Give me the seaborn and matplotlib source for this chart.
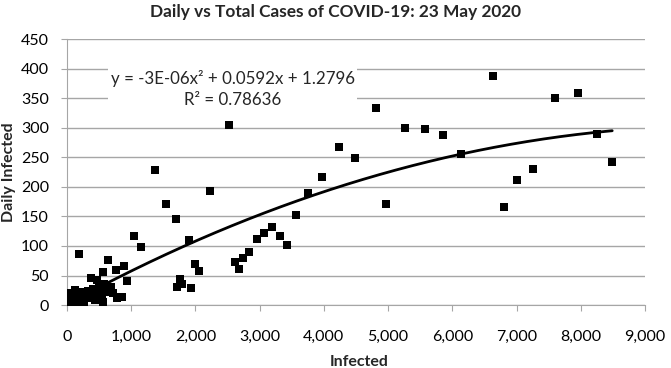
import numpy as np
import pandas as pd
import matplotlib
matplotlib.use("Agg")
import matplotlib.pyplot as plt
import seaborn as sns
from matplotlib.ticker import FuncFormatter, MultipleLocator

sns.set_style("white")
plt.rcParams['font.family'] = ['Lato', 'DejaVu Sans']

# total infected (x) and daily infected (y)
infected = [10, 30, 50, 60, 80, 100, 120, 140, 160, 187, 200, 220, 250, 270,
            300, 320, 350, 375, 400, 420, 440, 460, 480, 500, 520, 540, 560,
            565, 580, 600, 640, 660, 685, 720, 760, 780, 825, 850, 890, 930,
            1040, 1150, 1370, 1540, 1690, 1710, 1760, 1790, 1900, 1930, 1990,
            2050, 2220, 2530, 2610, 2675, 2740, 2830, 2955, 3065, 3200, 3310,
            3420, 3560, 3750, 3965, 4230, 4480, 4805, 4975, 5270, 5580, 5860,
            6130, 6640, 6810, 7010, 7250, 7600, 7960, 8260, 8490]
daily = [3, 1, 8, 20, 2, 12, 25, 5, 18, 87, 3, 10, 22, 6, 15, 24, 12, 46, 28,
         20, 8, 42, 18, 30, 25, 12, 5, 56, 35, 22, 77, 28, 31, 20, 59, 12, 14,
         14, 66, 41, 117, 98, 228, 171, 145, 31, 44, 36, 110, 29, 69, 57, 193,
         304, 73, 61, 79, 90, 112, 122, 132, 117, 101, 152, 190, 217, 267, 248,
         333, 171, 299, 298, 288, 255, 387, 166, 211, 230, 350, 358, 289, 242]

# excel polynomial trendline (order 2)
coef_a, coef_b, coef_c = -2.9e-06, 0.0592, 1.2796
equation = "y = -3E-06x² + 0.0592x + 1.2796"
r2_text = "R² = 0.78636"

df = pd.DataFrame({"Infected": infected, "Daily Infected": daily})
xs = np.linspace(min(infected), max(infected), 200)
trend = pd.DataFrame({"x": xs, "y": coef_a * xs**2 + coef_b * xs + coef_c})

fig = plt.figure(figsize=(6.71, 3.68), dpi=100)
ax = fig.add_axes([0.0998, 0.171, 0.8614, 0.723])

sns.scatterplot(data=df, x="Infected", y="Daily Infected", marker="s", s=34,
                color="black", edgecolor="black", linewidth=0, ax=ax, zorder=3)
sns.lineplot(data=trend, x="x", y="y", color="black", linewidth=2, ax=ax, zorder=4)

ax.set_xlim(0, 9000)
ax.set_ylim(0, 450)
ax.xaxis.set_major_locator(MultipleLocator(1000))
ax.yaxis.set_major_locator(MultipleLocator(50))
ax.xaxis.set_major_formatter(FuncFormatter(lambda v, p: f"{int(v):,}"))
ax.grid(axis="y", color="#a6a6a6", linewidth=1)
ax.set_axisbelow(True)
for side in ["top", "right"]:
    ax.spines[side].set_visible(False)
for side in ["left", "bottom"]:
    ax.spines[side].set_color("#a6a6a6")
ax.tick_params(axis="both", direction="out", length=4, color="#a6a6a6",
               labelsize=11.5, colors="#a6a6a6", labelcolor="black", bottom=True, left=True)
ax.tick_params(axis="x", pad=14)
ax.tick_params(axis="y", pad=9)

fig.text(0.5, 0.967, "Daily vs Total Cases of COVID-19: 23 May 2020", fontsize=12.4,
         fontweight="bold", ha="center", va="center")
ax.set_xlabel("Infected", fontsize=11.5, fontweight="bold", va="center")
ax.set_ylabel("Daily Infected", fontsize=11.5, fontweight="bold", va="center")
ax.xaxis.set_label_coords(0.506, -0.214)
ax.yaxis.set_label_coords(-0.100, 0.5)

# trendline label in a white box, as excel draws it
ax.text(2580, 365, equation + "\n" + r2_text, fontsize=12.2, ha="center", va="center",
        multialignment="center", linespacing=1.35, zorder=2,
        bbox=dict(facecolor="white", edgecolor="none", pad=2))

fig.savefig("out.png", dpi=100)
